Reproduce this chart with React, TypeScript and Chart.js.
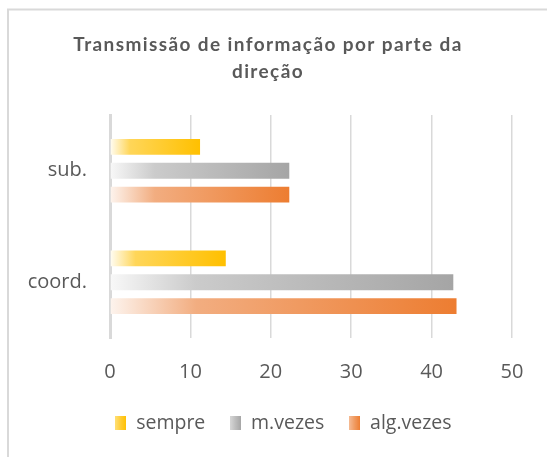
import { useEffect, useRef } from "react";
import { Chart, registerables } from "chart.js";

Chart.register(...registerables);

const TITLE_LINES = ["Transmissão de informação por parte da", "direção"];
const CATEGORIES = ["sub.", "coord."];
const SERIES_NAMES = ["sempre", "m.vezes", "alg.vezes"];
const SEMPRE = [11.2, 14.4];
const M_VEZES = [22.3, 42.7];
const ALG_VEZES = [22.3, 43.1];
const X_MIN = 0;
const X_MAX = 50;
const X_STEP = 10;

const SERIES_STOPS: [number, string][][] = [
  [[0, "#fffdf5"], [0.22, "#ffd659"], [1, "#ffc000"]],
  [[0, "#f8f8f8"], [0.25, "#cbcbcb"], [1, "#a5a5a5"]],
  [[0, "#fdf4ee"], [0.25, "#f2ad80"], [1, "#ed7d31"]],
];
const SWATCH_STOPS: [number, string][][] = [
  [[0, "#ffdf73"], [0.5, "#ffcc33"], [1, "#ffc000"]],
  [[0, "#d6d6d6"], [0.5, "#bcbcbc"], [1, "#a5a5a5"]],
  [[0, "#f5bb94"], [0.5, "#f09a5f"], [1, "#ed7d31"]],
];

const TEXT = "#595959";
const GRID = "#d9d9d9";

function makeSwatch(stops: [number, string][]) {
  const c = document.createElement("canvas");
  c.width = 11;
  c.height = 14;
  const g = c.getContext("2d")!;
  const gr = g.createLinearGradient(0, 0, 11, 0);
  stops.forEach(([o, col]) => gr.addColorStop(o, col));
  g.fillStyle = gr;
  g.fillRect(0, 0, 11, 14);
  return c;
}

export default function App() {
  const ref = useRef<HTMLCanvasElement>(null);

  useEffect(() => {
    const canvas = ref.current!;
    const barFill = (stops: [number, string][]) => (c: any) => {
      const chart = c.chart;
      const xs = chart.scales?.x;
      if (!chart.chartArea || !xs || c.raw == null) return stops[stops.length - 1][1];
      const x0 = xs.getPixelForValue(0);
      const x1 = xs.getPixelForValue(c.raw);
      if (x1 - x0 < 1) return stops[stops.length - 1][1];
      const g = chart.ctx.createLinearGradient(x0, 0, x1, 0);
      stops.forEach(([o, col]) => g.addColorStop(o, col));
      return g;
    };

    const seriesData = [SEMPRE, M_VEZES, ALG_VEZES];
    const swatches = SWATCH_STOPS.map(makeSwatch);

    const framePlugin = {
      id: "frame",
      afterLayout(chart: any) {
        if (chart.legend) {
          chart.legend.left += 14.5;
          chart.legend.right += 14.5;
        }
      },
      beforeDraw(chart: any) {
        const ctx = chart.ctx;
        ctx.save();
        ctx.fillStyle = "#ffffff";
        ctx.fillRect(0, 0, chart.width, chart.height);
        ctx.strokeStyle = GRID;
        ctx.lineWidth = 2;
        ctx.beginPath();
        ctx.moveTo(8, chart.height);
        ctx.lineTo(8, 9.5);
        ctx.lineTo(chart.width, 9.5);
        ctx.stroke();
        ctx.restore();
      },
    };

    const titlePlugin = {
      id: "spacedTitle",
      afterDraw(chart: any) {
        const ctx = chart.ctx;
        ctx.save();
        ctx.font = "bold 19px Lato";
        try {
          (ctx as any).letterSpacing = "1.4px";
        } catch (e) {}
        ctx.fillStyle = TEXT;
        ctx.textAlign = "center";
        ctx.textBaseline = "middle";
        ctx.fillText(TITLE_LINES[0], 268, 45);
        ctx.fillText(TITLE_LINES[1], 268, 72);
        ctx.restore();
      },
    };

    const chart = new Chart(canvas, {
      type: "bar",
      data: {
        labels: CATEGORIES,
        datasets: SERIES_NAMES.map((name, i) => ({
          label: name,
          data: seriesData[i],
          backgroundColor: barFill(SERIES_STOPS[i]),
          borderWidth: 0,
          categoryPercentage: 0.643,
          barPercentage: 0.667,
          pointStyle: swatches[i],
        })),
      },
      options: {
        indexAxis: "y",
        animation: false,
        responsive: true,
        maintainAspectRatio: false,
        layout: { padding: { top: 115, left: 26, right: 35, bottom: 14.25 } },
        scales: {
          x: {
            min: X_MIN,
            max: X_MAX,
            afterFit(scale: any) {
              scale.height = 50.25;
            },
            ticks: {
              stepSize: X_STEP,
              color: TEXT,
              font: { family: "'Open Sans'", size: 20 },
              padding: 22,
            },
            grid: { color: GRID, lineWidth: 1.5, drawTicks: false },
            border: { display: false },
          },
          y: {
            z: 1,
            afterFit(scale: any) {
              scale.width = 84;
            },
            ticks: {
              color: TEXT,
              font: { family: "'Open Sans'", size: 20 },
              padding: 23,
            },
            grid: { display: false, drawTicks: false },
            border: { display: true, color: GRID, width: 3 },
          },
        },
        plugins: {
          title: { display: false },
          tooltip: { enabled: false },
          legend: {
            position: "bottom",
            labels: {
              usePointStyle: true,
              boxWidth: 11,
              boxHeight: 14,
              padding: 25,
              color: TEXT,
              font: { family: "'Open Sans'", size: 19.5 },
            },
          },
        },
      },
      plugins: [framePlugin, titlePlugin],
    } as any);

    return () => chart.destroy();
  }, []);

  return (
    <div style={{ position: "fixed", left: 0, top: 0, width: 547, height: 457, background: "#fff" }}>
      <canvas ref={ref} />
    </div>
  );
}
